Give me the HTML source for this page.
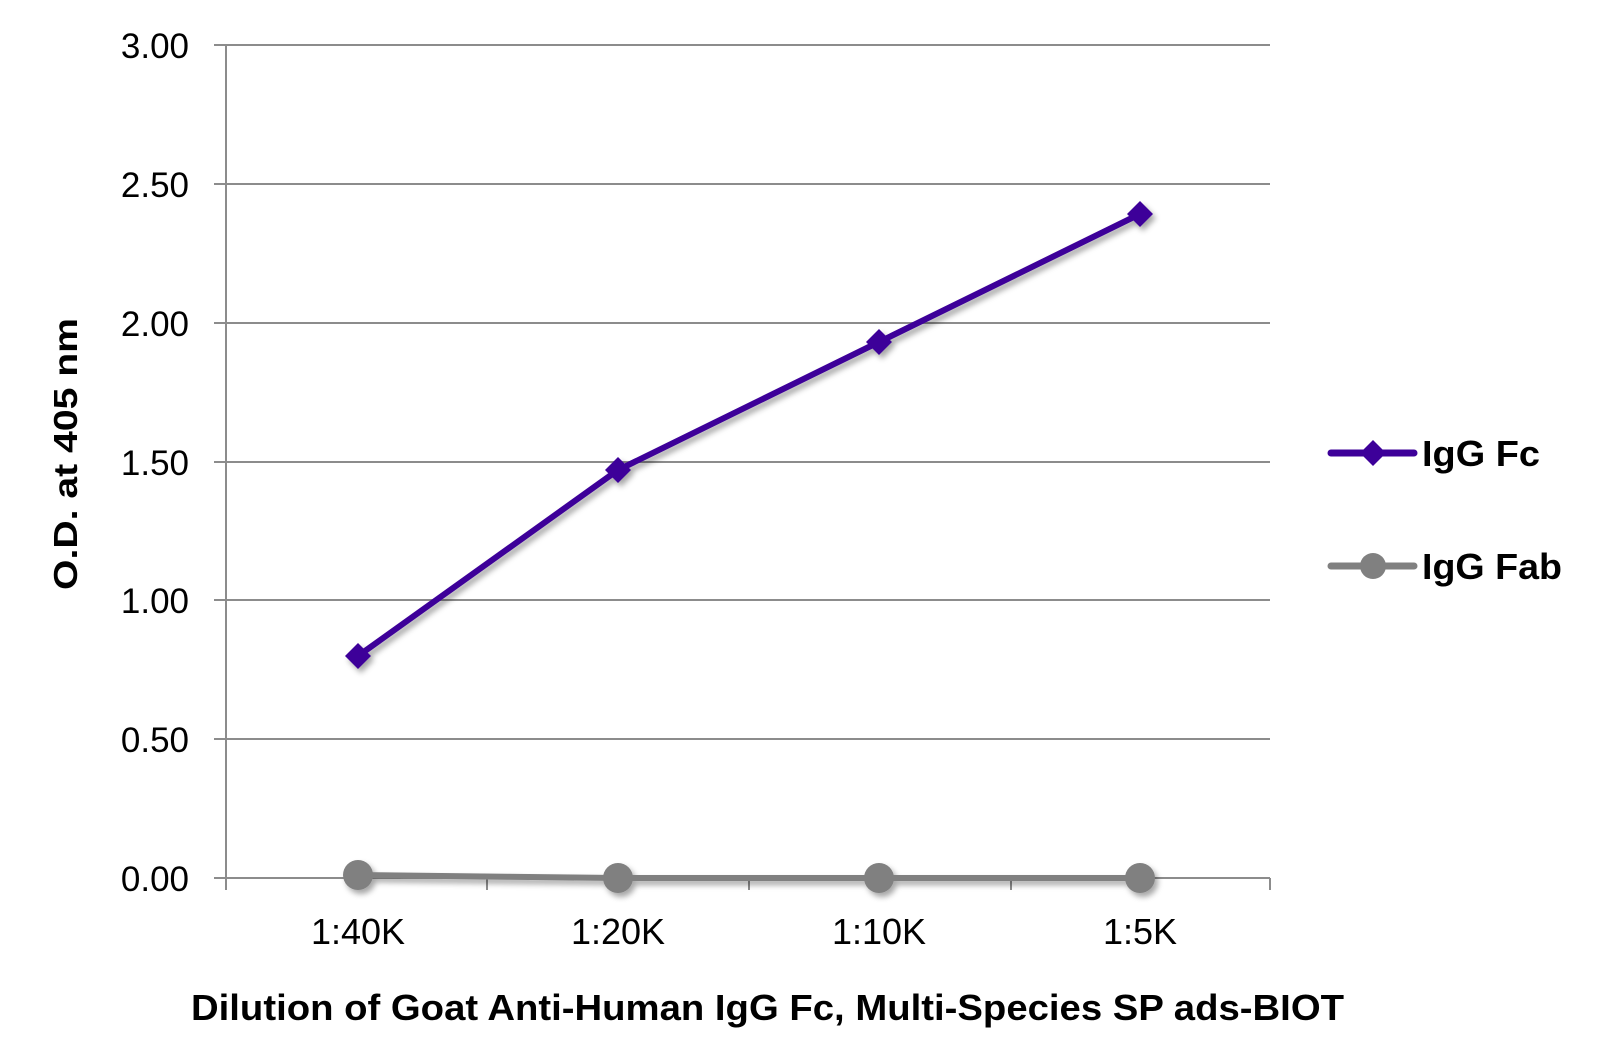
<!DOCTYPE html><html><head><style>body{margin:0;background:#fff}</style></head><body>
<svg width="1608" height="1057" xmlns="http://www.w3.org/2000/svg" font-family="Liberation Sans, sans-serif">
<defs><filter id="sh" x="-50%" y="-50%" width="200%" height="200%"><feDropShadow dx="3" dy="4" stdDeviation="3" flood-color="#000" flood-opacity="0.35"/></filter></defs>
<g stroke="#8c8c8c" stroke-width="2">
<line x1="214" y1="45" x2="1270" y2="45"/>
<line x1="214" y1="184" x2="1270" y2="184"/>
<line x1="214" y1="323" x2="1270" y2="323"/>
<line x1="214" y1="462" x2="1270" y2="462"/>
<line x1="214" y1="600" x2="1270" y2="600"/>
<line x1="214" y1="739" x2="1270" y2="739"/>
<line x1="214" y1="878" x2="1270" y2="878"/>
<line x1="226" y1="45" x2="226" y2="890"/>
<line x1="487" y1="878" x2="487" y2="890"/>
<line x1="749" y1="878" x2="749" y2="890"/>
<line x1="1011" y1="878" x2="1011" y2="890"/>
<line x1="1270" y1="878" x2="1270" y2="890"/>
</g>
<g font-size="35" text-anchor="end" fill="#000">
<text x="189" y="58">3.00</text><text x="189" y="197">2.50</text><text x="189" y="336">2.00</text>
<text x="189" y="475">1.50</text><text x="189" y="613">1.00</text><text x="189" y="752">0.50</text><text x="189" y="891">0.00</text>
</g>
<g font-size="36" text-anchor="middle">
<text x="358" y="944">1:40K</text><text x="618" y="944">1:20K</text><text x="879" y="944">1:10K</text><text x="1140" y="944">1:5K</text>
</g>
<text x="191" y="1020" font-size="36" font-weight="bold" textLength="1153" lengthAdjust="spacingAndGlyphs">Dilution of Goat Anti-Human IgG Fc, Multi-Species SP ads-BIOT</text>
<text transform="translate(77,454) rotate(-90)" font-size="33" font-weight="bold" text-anchor="middle" textLength="272" lengthAdjust="spacingAndGlyphs">O.D. at 405 nm</text>
<g filter="url(#sh)">
<polyline points="358,875 618,878 879,878 1140,878" fill="none" stroke="#808080" stroke-width="6"/>
<g fill="#808080"><circle cx="358" cy="875" r="15"/><circle cx="618" cy="878" r="15"/><circle cx="879" cy="878" r="15"/><circle cx="1140" cy="878" r="15"/></g>
<polyline points="358,656 618,470 879,342 1140,214" fill="none" stroke="#3d0099" stroke-width="6"/>
<g fill="#3d0099">
<polygon points="358,643 371,656 358,669 345,656"/><polygon points="618,457 631,470 618,483 605,470"/>
<polygon points="879,329 892,342 879,355 866,342"/><polygon points="1140,201 1153,214 1140,227 1127,214"/>
</g></g>
<line x1="1331" y1="453" x2="1414" y2="453" stroke="#3d0099" stroke-width="7" stroke-linecap="round"/>
<polygon points="1373,440 1386,453 1373,466 1360,453" fill="#3d0099"/>
<line x1="1331" y1="566" x2="1414" y2="566" stroke="#808080" stroke-width="7" stroke-linecap="round"/>
<circle cx="1373" cy="566" r="13" fill="#808080"/>
<g font-size="36" font-weight="bold"><text x="1422" y="466" textLength="118" lengthAdjust="spacingAndGlyphs">IgG Fc</text><text x="1422" y="579" textLength="140" lengthAdjust="spacingAndGlyphs">IgG Fab</text></g>
</svg></body></html>
